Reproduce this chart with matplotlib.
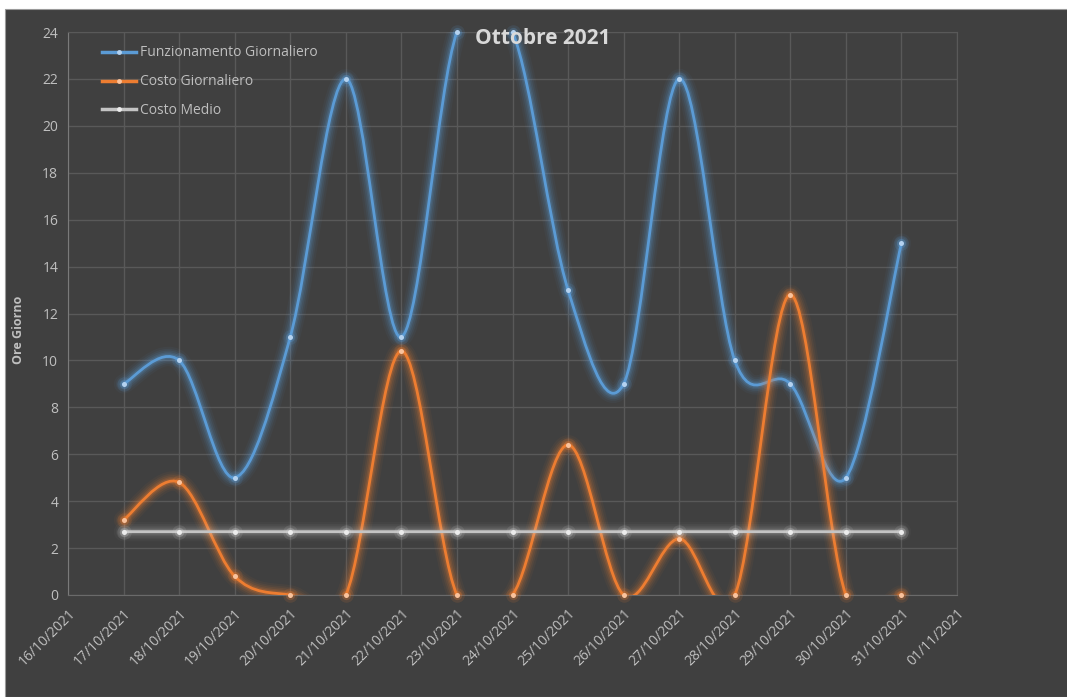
import datetime as dt

import matplotlib
matplotlib.use("Agg")
import matplotlib.pyplot as plt
import matplotlib.dates as mdates
import matplotlib.patheffects as pe
from matplotlib.lines import Line2D
from matplotlib.patches import PathPatch, Rectangle
from matplotlib.path import Path
import numpy as np

# dati
giorni = [dt.date(2021, 10, d) for d in range(17, 32)]
funzionamento = [9, 10, 5, 11, 22, 11, 24, 24, 13, 9, 22, 10, 9, 5, 15]
costo = [3.2, 4.8, 0.8, 0, 0, 10.4, 0, 0, 6.4, 0, 2.4, 0, 12.8, 0, 0]
costo_medio = [2.7] * len(giorni)
tick_giorni = [dt.date(2021, 10, 16) + dt.timedelta(days=i) for i in range(17)]

BG = "#404040"
GRID = "#595959"
TXT = "#bfbfbf"
plt.rcParams["font.family"] = ["Open Sans", "DejaVu Sans"]


def curva_smooth(x, y):
    """Curva tipo Excel (Catmull-Rom -> Bezier)."""
    p = np.column_stack([x, y])
    n = len(p)
    verts = [p[0]]
    codes = [Path.MOVETO]
    for i in range(n - 1):
        p0 = p[i - 1] if i > 0 else p[i]
        p3 = p[i + 2] if i + 2 < n else p[i + 1]
        c1 = p[i] + (p[i + 1] - p0) / 6
        c2 = p[i + 1] - (p3 - p[i]) / 6
        verts += [c1, c2, p[i + 1]]
        codes += [Path.CURVE4] * 3
    return Path(verts, codes)


def glow(colore, forza=1.0):
    eff = []
    for lw, a in [(14, 0.05), (11, 0.07), (8.5, 0.1), (6, 0.14), (4, 0.2)]:
        eff.append(pe.Stroke(linewidth=lw, foreground=colore, alpha=a * forza))
    eff.append(pe.Normal())
    return eff


fig = plt.figure(figsize=(10.67, 6.97), dpi=100, facecolor="white")
fig.patches.append(Rectangle((5 / 1067, 0), 1, 1 - 9 / 697, transform=fig.transFigure,
                             facecolor=BG, edgecolor="#9a9a9a", linewidth=0.8, zorder=-10))
ax = fig.add_axes([68 / 1067, 1 - 595 / 697, (957 - 68) / 1067, (595 - 32) / 697])
ax.set_facecolor(BG)

xnum = mdates.date2num(giorni)
serie = [
    (funzionamento, "#5b9bd5", "#b4d2f0", "#5b9bd5", 1.0, "Funzionamento Giornaliero"),
    (costo, "#ed7d31", "#f9c29c", "#ed7d31", 1.0, "Costo Giornaliero"),
    (costo_medio, "#c4c4c4", "#ececec", "#d9d9d9", 0.6, "Costo Medio"),
]
for vals, col, mcol, gcol, forza, lab in serie:
    patch = PathPatch(curva_smooth(xnum, vals), facecolor="none", edgecolor=col,
                      linewidth=2.0, zorder=3, capstyle="round")
    patch.set_path_effects(glow(gcol, forza))
    ax.add_patch(patch)
    ax.scatter(xnum, vals, s=110, color=gcol, alpha=0.12, linewidths=0, zorder=4, clip_on=False)
    ax.scatter(xnum, vals, s=45, color=gcol, alpha=0.25, linewidths=0, zorder=4, clip_on=False)
    ax.scatter(xnum, vals, s=13, color=mcol, linewidths=0, zorder=5, clip_on=False)

ax.set_xlim(mdates.date2num(tick_giorni[0]), mdates.date2num(tick_giorni[-1]))
ax.set_ylim(0, 24)
ax.set_yticks(range(0, 25, 2))
ax.set_xticks(mdates.date2num(tick_giorni))
ax.set_xticklabels([d.strftime("%d/%m/%Y") for d in tick_giorni], rotation=45,
                   ha="right", rotation_mode="anchor")
ax.tick_params(colors=TXT, labelsize=10, length=0, pad=7)
ax.tick_params(axis="x", pad=8)
ax.grid(True, color=GRID, linewidth=1)
ax.set_axisbelow(True)
for s in ["top", "right"]:
    ax.spines[s].set_color(GRID)
ax.spines["bottom"].set_color("#6a6a6a")
ax.spines["left"].set_color("#7a7a7a")

fig.text(18 / 1067, 1 - 330 / 697, "Ore Giorno", rotation=90, color=TXT,
         fontsize=9, fontweight="bold", ha="center", va="center")
fig.text(543 / 1067, 1 - 38 / 697, "Ottobre 2021", color="#d9d9d9", fontsize=15,
         fontweight="bold", ha="center", va="center", zorder=6)

handles = [Line2D([0], [0], color=s[1], linewidth=2.5, marker="o", markersize=3.5,
                  markerfacecolor=s[2], markeredgewidth=0) for s in serie]
leg = ax.legend(handles, [s[5] for s in serie], loc="upper left",
                bbox_to_anchor=(89 / 1067, 1 - 33 / 697), bbox_transform=fig.transFigure,
                frameon=False, fontsize=10, handlelength=2.5, handletextpad=0.3,
                labelspacing=1.0)
for t in leg.get_texts():
    t.set_color(TXT)

fig.savefig("out.png", dpi=100, facecolor=fig.get_facecolor())
